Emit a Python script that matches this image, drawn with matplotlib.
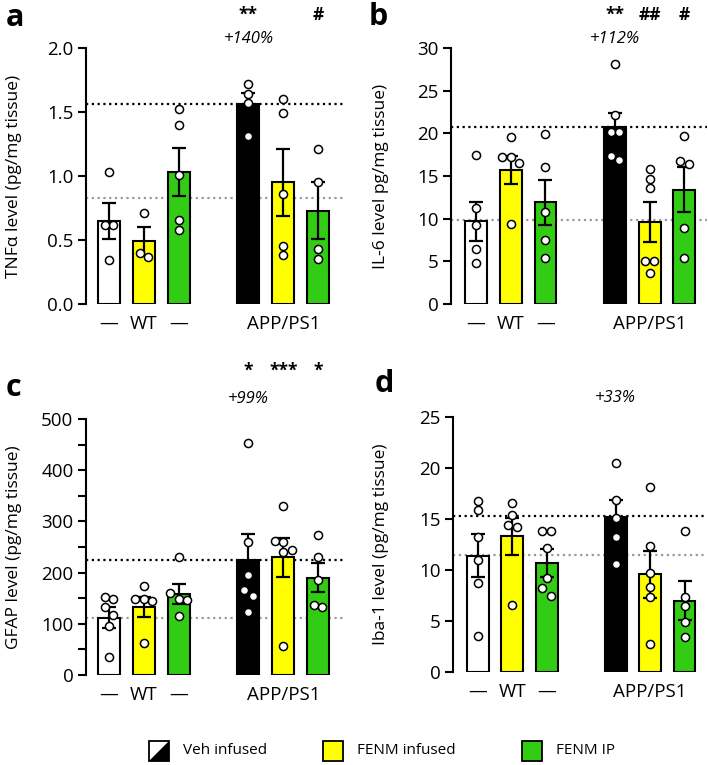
import numpy as np
import matplotlib
matplotlib.use("Agg")
import matplotlib.pyplot as plt
from matplotlib.patches import Rectangle, Polygon
from matplotlib.transforms import blended_transform_factory

plt.rcParams["font.family"] = ["Open Sans", "DejaVu Sans"]

# groups: WT Veh, WT FENM infused, WT FENM IP, APP Veh, APP FENM infused, APP FENM IP
positions = [0, 1, 2, 4, 5, 6]
bar_colors = ["white", "#ffff00", "#33cc14", "black", "#ffff00", "#33cc14"]

tnf_mean = [0.65, 0.49, 1.03, 1.56, 0.95, 0.73]
tnf_sem = [0.14, 0.11, 0.19, 0.09, 0.26, 0.22]
tnf_pts = [[1.03, 0.62, 0.62, 0.34], [0.71, 0.40, 0.37],
           [1.52, 1.40, 1.01, 0.66, 0.58], [1.72, 1.64, 1.57, 1.31],
           [1.60, 1.49, 0.86, 0.45, 0.38], [1.21, 0.95, 0.43, 0.35]]
tnf_ref = [1.56, 0.83]

il6_mean = [9.7, 15.7, 11.9, 20.8, 9.6, 13.4]
il6_sem = [2.3, 1.6, 2.6, 1.6, 2.3, 2.6]
il6_pts = [[17.5, 11.3, 9.2, 6.5, 4.8], [19.6, 17.2, 17.2, 16.5, 9.4],
           [19.9, 16.0, 10.8, 7.5, 5.4], [28.1, 22.1, 20.1, 20.1, 17.3, 16.9],
           [15.8, 14.6, 13.6, 5.0, 5.0, 3.6], [19.7, 16.7, 16.4, 8.9, 5.4]]
il6_ref = [20.8, 9.8]

gfap_mean = [112, 133, 158, 225, 230, 190]
gfap_sem = [20, 20, 20, 50, 38, 28]
gfap_pts = [[152, 148, 132, 118, 95, 35], [174, 148, 148, 145, 63],
            [230, 160, 149, 146, 116], [454, 260, 196, 166, 155, 124],
            [331, 262, 260, 245, 240, 57], [274, 230, 186, 136, 133]]
gfap_ref = [225, 112]

iba_mean = [11.4, 13.3, 10.7, 15.2, 9.6, 7.0]
iba_sem = [2.1, 1.8, 1.4, 1.7, 2.3, 1.9]
iba_pts = [[16.8, 15.9, 13.2, 11.0, 8.7, 3.5], [16.6, 15.4, 14.4, 14.2, 6.6],
           [13.8, 13.8, 12.2, 9.2, 8.2, 7.5], [20.5, 16.9, 15.1, 13.2, 10.6],
           [18.1, 12.4, 9.7, 8.3, 7.4, 2.7], [13.8, 7.4, 6.5, 4.9, 3.4]]
iba_ref = [15.3, 11.5]

W, H = 708, 765
fig = plt.figure(figsize=(W / 100, H / 100), dpi=100)


def add_axes(l, r, t, b):
    return fig.add_axes([l / W, 1 - b / H, (r - l) / W, (b - t) / H])


def row_offsets(vals, min_gap, step):
    # scatter points that sit at almost the same height side by side
    vals = np.asarray(vals, float)
    order = np.argsort(vals)[::-1]
    offs = np.zeros(len(vals))
    rows, cur = [], [order[0]]
    for i in order[1:]:
        if vals[cur[-1]] - vals[i] < min_gap and len(cur) < 3:
            cur.append(i)
        else:
            rows.append(cur)
            cur = [i]
    rows.append(cur)
    for r in rows:
        for k, i in enumerate(r):
            offs[i] = (k - (len(r) - 1) / 2) * step
    return offs


def panel(box, xlim, means, sems, pts, refs, ymax, ystep, ylabel, label_x,
          marks, pct, y_marks, y_pct, minor=None):
    ax = add_axes(*box)
    ax.set_xlim(*xlim)
    ax.set_ylim(0, ymax)
    hpx = box[3] - box[2]
    wpx = box[1] - box[0]
    ax.axhline(refs[0], color="black", ls=(0, (1, 1.6)), lw=1.6, zorder=1)
    ax.axhline(refs[1], color="#9a9a9a", ls=(0, (1, 1.6)), lw=1.6, zorder=1)
    ax.bar(positions, means, width=0.63, color=bar_colors, edgecolor="black",
           linewidth=1.5, zorder=2)
    ax.errorbar(positions, means, yerr=sems, fmt="none", ecolor="black",
                elinewidth=1.6, capsize=5, capthick=1.6, zorder=3)
    gap = 8.0 * ymax / hpx
    step = 8.5 * (xlim[1] - xlim[0]) / wpx
    for p, v in zip(positions, pts):
        off = row_offsets(v, gap, step)
        ax.scatter(p + off, v, s=34, facecolor="white", edgecolor="black",
                   linewidth=1.1, zorder=4, clip_on=False)
    for s in ["top", "right", "bottom"]:
        ax.spines[s].set_visible(False)
    ax.spines["left"].set_linewidth(1.5)
    ax.set_xticks([])
    ax.set_yticks(np.arange(0, ymax + ystep / 2, ystep))
    if minor:
        ax.set_yticks(np.arange(minor, ymax, 2 * minor), minor=True)
        ax.tick_params(axis="y", which="minor", length=6, width=1.5)
    ax.tick_params(axis="y", length=6, width=1.5, labelsize=13.5, pad=3)
    ax.set_ylabel(ylabel, fontsize=12.5)
    ax.yaxis.label.set_va("center")
    ax.yaxis.set_label_coords((label_x - box[0]) / wpx, 0.5)
    tr = blended_transform_factory(ax.transData, ax.transAxes)
    gy = -20 / hpx
    for x, t in zip([0, 1, 2, 5], ["—", "WT", "—", "APP/PS1"]):
        ax.text(x, gy, t, transform=tr, ha="center", va="center", fontsize=13.5)
    for x, t in zip([4, 5, 6], marks):
        ax.text(x, y_marks, t, transform=tr, ha="center", va="center",
                fontsize=12.5, fontweight="bold")
    ax.text(4, y_pct, pct, transform=tr, ha="center", va="center",
            fontsize=12, fontstyle="italic")
    return ax


xa = (-0.657, 6.77)
xb = (-0.72, 6.65)
panel((86, 345, 48, 304), xa, tnf_mean, tnf_sem, tnf_pts, tnf_ref, 2.0, 0.5,
      "TNFα level (pg/mg tissue)", 14, ["**", "", "#"], "+140%", 1.13, 1.035)
panel((451, 707, 48, 304), xb, il6_mean, il6_sem, il6_pts, il6_ref, 30, 5,
      "IL-6 level pg/mg tissue)", 381, ["**", "##", "#"], "+112%", 1.13, 1.035)
panel((86, 345, 419, 675), xa, gfap_mean, gfap_sem, gfap_pts, gfap_ref, 500, 100,
      "GFAP level (pg/mg tissue)", 14, ["*", "***", "*"], "+99%", 1.19, 1.08,
      minor=50)
panel((453, 707, 417, 672), xb, iba_mean, iba_sem, iba_pts, iba_ref, 25, 5,
      "Iba-1 level (pg/mg tissue)", 381, ["", "", ""], "+33%", 1.19, 1.075)

for x, y, t in [(15, 18, "a"), (378, 17, "b"), (13, 388, "c"), (384, 384, "d")]:
    fig.text(x / W, 1 - y / H, t, ha="center", va="center", fontsize=22,
             fontweight="bold")


# legend drawn by hand
def fx(x):
    return x / W


def fy(y):
    return 1 - y / H


ps = 20
x0, ytop = 149, 741
fig.add_artist(Rectangle((fx(x0), fy(ytop + ps)), ps / W, ps / H, transform=fig.transFigure,
                         facecolor="white", edgecolor="none"))
fig.add_artist(Polygon([(fx(x0), fy(ytop + ps)), (fx(x0 + ps), fy(ytop + ps)),
                        (fx(x0 + ps), fy(ytop))], closed=True, transform=fig.transFigure,
                       facecolor="black", edgecolor="none"))
fig.add_artist(Rectangle((fx(x0), fy(ytop + ps)), ps / W, ps / H, transform=fig.transFigure,
                         facecolor="none", edgecolor="black", linewidth=1.3))
fig.text(fx(183), fy(ytop + ps / 2), "Veh infused", ha="left", va="center", fontsize=11)
for x, col, t in [(323, "#ffff00", "FENM infused"), (522, "#33cc14", "FENM IP")]:
    fig.add_artist(Rectangle((fx(x), fy(ytop + ps)), ps / W, ps / H, transform=fig.transFigure,
                             facecolor=col, edgecolor="black", linewidth=1.3))
    fig.text(fx(x + 34), fy(ytop + ps / 2), t, ha="left", va="center", fontsize=11)

fig.savefig("out.png", dpi=100)
